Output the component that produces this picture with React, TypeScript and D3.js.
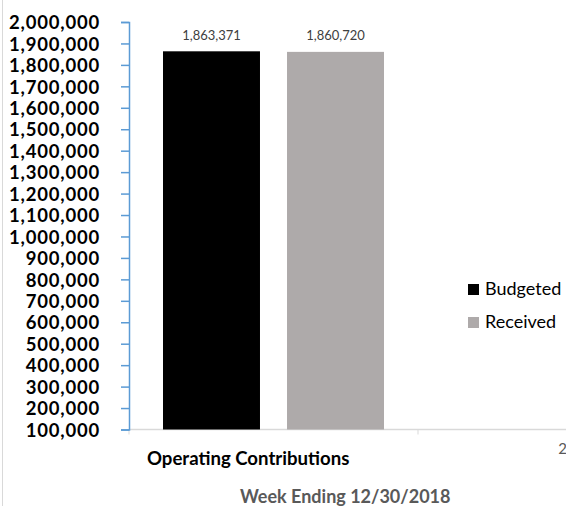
import React, { useEffect, useRef } from 'react';
import * as d3 from 'd3';

const categories = ['Operating Contributions', '2'];
const seriesNames = ['Budgeted', 'Received'];
const seriesColors = ['#000000', '#aeaaaa'];
const budgeted = [1863371];
const received = [1860720];
const yTicks = [
  100000, 200000, 300000, 400000, 500000, 600000, 700000, 800000, 900000, 1000000,
  1100000, 1200000, 1300000, 1400000, 1500000, 1600000, 1700000, 1800000, 1900000, 2000000,
];
const footer = 'Week Ending 12/30/2018';

export default function App() {
  const svgRef = useRef<SVGSVGElement>(null);

  useEffect(() => {
    if (!svgRef.current) return;
    const svg = d3.select(svgRef.current);
    svg.selectAll('*').remove();

    const width = 566;
    const height = 506;
    const left = 129;
    const top = 22;
    const bottom = 429.5;
    const font = 'Lato, Carlito, sans-serif';

    // outer chart border (only the left edge is visible)
    svg.append('rect')
      .attr('x', 2.5).attr('y', -10)
      .attr('width', 700).attr('height', 700)
      .attr('fill', 'none').attr('stroke', '#d9d9d9');

    const y = d3.scaleLinear()
      .domain([yTicks[0], yTicks[yTicks.length - 1]])
      .range([bottom, top]);

    const x = d3.scaleBand<string>()
      .domain(categories)
      .range([left, left + 2 * 289]);

    const inner = d3.scaleBand<string>()
      .domain(seriesNames)
      .range([34, x.bandwidth() - 34])
      .paddingInner(0.218);

    // x axis line + boundary ticks
    svg.append('line')
      .attr('x1', left).attr('x2', width)
      .attr('y1', bottom).attr('y2', bottom)
      .attr('stroke', '#d9d9d9').attr('stroke-width', 1.5);
    svg.selectAll('.xtick')
      .data([...categories.map(c => x(c) as number), (x(categories[1]) as number) + x.step()])
      .enter().append('line')
      .attr('x1', d => d).attr('x2', d => d)
      .attr('y1', bottom).attr('y2', bottom + 5)
      .attr('stroke', '#d9d9d9');

    // bars
    const values = [budgeted, received];
    seriesNames.forEach((name, si) => {
      const data = values[si].map((v, i) => ({ cat: categories[i], v }));
      const g = svg.append('g');
      g.selectAll('rect')
        .data(data)
        .enter().append('rect')
        .attr('x', d => (x(d.cat) as number) + (inner(name) as number))
        .attr('y', d => y(d.v))
        .attr('width', inner.bandwidth())
        .attr('height', d => y(yTicks[0]) - y(d.v))
        .attr('fill', seriesColors[si]);
      g.selectAll('text')
        .data(data)
        .enter().append('text')
        .attr('x', d => (x(d.cat) as number) + (inner(name) as number) + inner.bandwidth() / 2)
        .attr('y', d => y(d.v) - 11.5)
        .attr('text-anchor', 'middle')
        .attr('font-family', font)
        .attr('font-size', 13)
        .attr('fill', '#404040')
        .text(d => d3.format(',')(d.v));
    });

    // y axis
    const yAxis = svg.append('g')
      .attr('transform', `translate(${left},0)`)
      .call(d3.axisLeft(y).tickValues(yTicks).tickSize(8).tickPadding(21).tickFormat(d3.format(',')));
    yAxis.select('.domain').attr('stroke', '#5b9bd5').attr('stroke-width', 1.5);
    yAxis.selectAll('.tick line').attr('stroke', '#5b9bd5').attr('stroke-width', 1.5);
    yAxis.selectAll('.tick text')
      .attr('fill', '#000')
      .attr('font-family', font)
      .attr('font-weight', 'bold')
      .attr('font-size', 18.5)
      .attr('letter-spacing', '0.8px')
      .attr('dy', '0.36em');

    // category labels
    svg.append('text')
      .attr('x', (x(categories[0]) as number) + 18)
      .attr('y', 465)
      .attr('font-family', font)
      .attr('font-weight', 'bold')
      .attr('font-size', 18.6)
      .attr('fill', '#000')
      .text(categories[0]);
    svg.append('text')
      .attr('x', (x(categories[1]) as number) + x.bandwidth() / 2)
      .attr('y', 454)
      .attr('text-anchor', 'middle')
      .attr('font-family', font)
      .attr('font-size', 15)
      .attr('fill', '#595959')
      .text(categories[1]);

    // footer
    svg.append('text')
      .attr('x', 240)
      .attr('y', 503)
      .attr('font-family', font)
      .attr('font-weight', 'bold')
      .attr('font-size', 18)
      .attr('fill', '#595959')
      .text(footer);

    // legend
    const legend = svg.append('g').attr('transform', 'translate(468,284)');
    seriesNames.forEach((name, i) => {
      legend.append('rect')
        .attr('x', 0).attr('y', i * 33)
        .attr('width', 11).attr('height', 11)
        .attr('fill', seriesColors[i]);
      legend.append('text')
        .attr('x', 17).attr('y', i * 33 + 11)
        .attr('font-family', font)
        .attr('font-size', 18)
        .attr('fill', '#000')
        .text(name);
    });

    svg.attr('width', width).attr('height', height);
  }, []);

  return (
    <svg
      ref={svgRef}
      width={566}
      height={506}
      style={{ position: 'absolute', left: 0, top: 0, background: '#fff', overflow: 'hidden' }}
    />
  );
}
